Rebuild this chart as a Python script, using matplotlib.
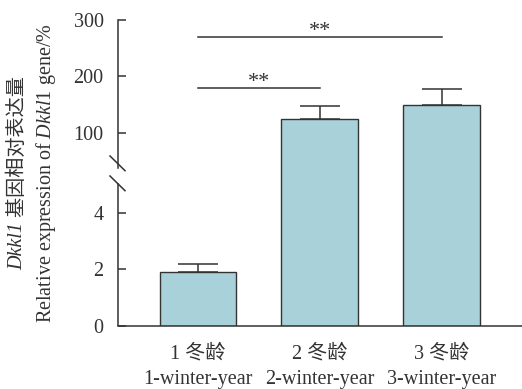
import numpy as np
import matplotlib
matplotlib.use("Agg")
import matplotlib.pyplot as plt
from matplotlib.lines import Line2D

# ------------------------------------------------------------------------------
groups_cn = ["1 冬龄", "2 冬龄", "3 冬龄"]
groups_en = ["1-winter-year", "2-winter-year", "3-winter-year"]
means = [1.91, 124, 150]  # relative expression (%)
errors = [0.28, 24, 28]  # upward error bars
sig_pairs = [(0, 1), (0, 2)]  # significance brackets
sig_levels = [180, 270]
sig_labels = ["**", "**"]
y_ticks = [0, 2, 4, 100, 200, 300]
# ------------------------------------------------------------------------------

bar_color = "#a8d1d9"
ink = "#333333"
fs = 14.5
plt.rcParams["font.family"] = ["Liberation Serif", "Noto Sans CJK SC"]
plt.rcParams["font.size"] = fs
plt.rcParams["text.color"] = ink
plt.rcParams["mathtext.fontset"] = "custom"
plt.rcParams["mathtext.rm"] = "Liberation Serif"
plt.rcParams["mathtext.it"] = "Liberation Serif:italic"

W, H = 522, 389
fig = plt.figure(figsize=(W / 100, H / 100), dpi=100)


def px(x, y):
    """Pixel coords (top-left origin) to figure fraction."""
    return x / W, 1 - y / H


# broken y axis: 0-5.06 below the break, 38-300 above it
brk_val = [0, 5.06, 38, 300]
brk_pos = [0, 143, 158, 306]


def fwd(v):
    return np.interp(v, brk_val, brk_pos)


def inv(p):
    return np.interp(p, brk_pos, brk_val)


left = 117.5 / W
ax = fig.add_axes([left, px(0, 326)[1], 1 - left, (326 - 20) / H])
ax.set_yscale("function", functions=(fwd, inv))

x = np.arange(len(means))
ax.bar(x, means, width=0.63, color=bar_color, edgecolor=ink, linewidth=1.0, zorder=2)
ax.errorbar(x, means, yerr=[np.zeros(len(errors)), errors], fmt="none", ecolor=ink,
            elinewidth=1.1, capsize=14.5, capthick=1.1, zorder=3)
ax.set_xlim(-0.66, 2.66)
ax.set_ylim(0, 300)
ax.set_yticks(y_ticks)
ax.set_yticks([], minor=True)
for s in ("top", "right"):
    ax.spines[s].set_visible(False)
ax.spines["bottom"].set_color(ink)
ax.spines["bottom"].set_linewidth(1.1)
ax.spines["left"].set_color(ink)
ax.spines["left"].set_linewidth(1.1)
ax.spines["left"].set_bounds(38, 300)
ax.plot([0, 0], [0, 5.06], color=ink, lw=1.1, clip_on=False,
        transform=ax.get_yaxis_transform(), solid_capstyle="butt")
ax.tick_params(axis="y", direction="in", length=6, width=1.1, color=ink,
               labelsize=fs, pad=10, labelcolor=ink)

ax.set_xticks(x)
ax.set_xticklabels([c + "\n" + e for c, e in zip(groups_cn, groups_en)],
                   linespacing=1.5)
ax.tick_params(axis="x", direction="in", length=6.5, width=1.1, color=ink,
               labelsize=fs, pad=13, labelcolor=ink)

# significance brackets
for (a, b), lvl, lab in zip(sig_pairs, sig_levels, sig_labels):
    ax.plot([a, b], [lvl, lvl], color=ink, lw=1.1, clip_on=False)
    ax.text((a + b) / 2, lvl + 9, lab, ha="center", va="center",
            fontsize=16, color=ink)

# axis break marks
for y0 in (156, 176):
    x1, y1 = px(110, y0)
    x2, y2 = px(125, y0 + 14.7)
    fig.add_artist(Line2D([x1, x2], [y1, y2], color=ink, lw=1.1))

# y label, two lines
yc = 1 - 173 / H
fig.text(46.5 / W, yc, "Relative expression of $\\mathit{Dkkl1}$ gene/%",
         rotation=90, ha="center", va="center", fontsize=fs)

t_it = fig.text(18 / W, yc, "Dkkl1", rotation=90, ha="center", va="bottom",
                fontsize=fs, style="italic")
t_cn = fig.text(18 / W, yc, " 基因相对表达量", rotation=90, ha="center",
                va="bottom", fontsize=fs)
fig.canvas.draw()
r = fig.canvas.get_renderer()
h_it = t_it.get_window_extent(r).height
h_cn = t_cn.get_window_extent(r).height
y_start = (H - 173) - (h_it + h_cn) / 2
t_it.set_y(y_start / H)
t_cn.set_y((y_start + h_it) / H)

fig.savefig("out.png", dpi=100)
